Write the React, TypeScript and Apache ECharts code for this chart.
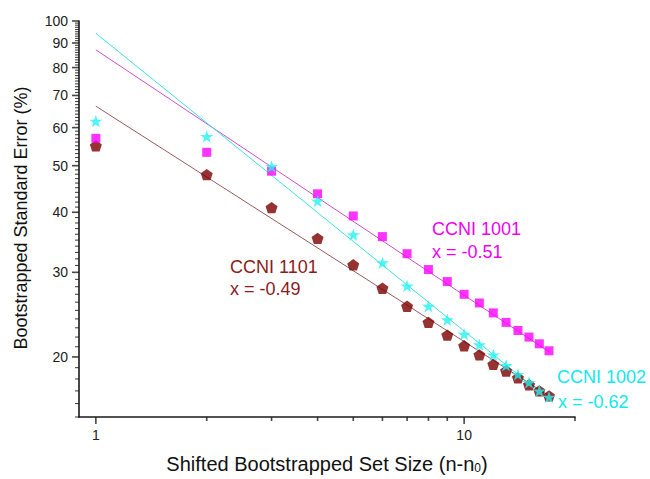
import React, { useEffect, useRef } from "react";
import * as echarts from "echarts";

// Shifted bootstrapped set size (n - n0)
const setSizes = [1, 2, 3, 4, 5, 6, 7, 8, 9, 10, 11, 12, 13, 14, 15, 16, 17];

// Bootstrapped standard error (%)
const ccni1001 = [57.0, 53.3, 48.7, 43.7, 39.3, 35.6, 32.8, 30.4, 28.7, 27.0, 25.9, 24.7, 23.6, 22.7, 22.0, 21.3, 20.6];
const ccni1002 = [61.9, 57.5, 49.8, 42.2, 35.9, 31.4, 28.1, 25.5, 23.9, 22.3, 21.2, 20.2, 19.2, 18.4, 17.7, 17.0, 16.5];
const ccni1101 = [55.0, 47.9, 40.9, 35.3, 31.1, 27.8, 25.5, 23.6, 22.2, 21.1, 20.2, 19.3, 18.7, 18.1, 17.5, 17.0, 16.6];

// Power-law fit lines: endpoints
const fitX = [1, 17];
const fit1001 = [87.1, 20.5];
const fit1002 = [94.3, 16.3];
const fit1101 = [66.5, 16.6];

// Axis ranges and tick values
const xRange = [0.9, 20];
const yRange = [15, 100];
const xMajor = [1, 10];
const xMinor = [2, 3, 4, 5, 6, 7, 8, 9, 20];
const yMajor = [20, 30, 40, 50, 60, 70, 80, 90, 100];
const yMinor = [
  15, 16, 17, 18, 19, 21, 22, 23, 24, 25, 26, 27, 28, 29,
  31, 32, 33, 34, 35, 36, 37, 38, 39, 41, 42, 43, 44, 45, 46, 47, 48, 49,
  51, 52, 53, 54, 55, 56, 57, 58, 59, 61, 62, 63, 64, 65, 66, 67, 68, 69,
  71, 72, 73, 74, 75, 76, 77, 78, 79, 81, 82, 83, 84, 85, 86, 87, 88, 89,
  91, 92, 93, 94, 95, 96, 97, 98, 99,
];

const FONT = '"Liberation Sans", Arial, sans-serif';
const AXIS = "#1a1a1a";

const STAR =
  "path://M50,0 L61.8,35.3 L99,35.3 L68.8,57.1 L80.3,92.7 L50,70.9 L19.7,92.7 L31.2,57.1 L1,35.3 L38.2,35.3 Z";
const PENTAGON = "path://M50,0 L97.6,34.5 L79.4,90.5 L20.6,90.5 L2.4,34.5 Z";

const pairs = (xv: number[], yv: number[]) => xv.map((x, i) => [x, yv[i]]);

function buildOption(): any {
  const fitLine = (data: number[], color: string) => ({
    type: "line",
    data: pairs(fitX, data),
    symbol: "none",
    lineStyle: { color, width: 1 },
    z: 2,
    silent: true,
  });
  const scatter = (data: number[], symbol: string, size: number, color: string) => ({
    type: "scatter",
    data: pairs(setSizes, data),
    symbol,
    symbolSize: size,
    symbolKeepAspect: true,
    itemStyle: { color },
    z: 3,
  });
  // tick marks: thin rect markers placed on the axes through the log scales
  const xTicks = (values: number[], len: number) => ({
    type: "scatter",
    silent: true,
    clip: false,
    z: 6,
    data: values.map((v) => [v, yRange[0]]),
    symbol: "rect",
    symbolSize: [1.6, len],
    symbolOffset: [0, len / 2],
    itemStyle: { color: AXIS },
  });
  const yTicks = (values: number[], len: number, w: number) => ({
    type: "scatter",
    silent: true,
    clip: false,
    z: 6,
    data: values.map((v) => [xRange[0], v]),
    symbol: "rect",
    symbolSize: [len, w],
    symbolOffset: [-len / 2, 0],
    itemStyle: { color: AXIS },
  });

  return {
    animation: false,
    backgroundColor: "#ffffff",
    grid: { left: 79, right: 75, top: 21, bottom: 59, containLabel: false },
    xAxis: {
      type: "log",
      logBase: 10,
      min: xRange[0],
      max: xRange[1],
      position: "bottom",
      name: "Shifted Bootstrapped Set Size (n-n{sub|0})",
      nameLocation: "middle",
      nameGap: 36,
      nameTextStyle: {
        fontFamily: FONT,
        fontSize: 20,
        color: "#111",
        rich: {
          sub: { fontFamily: FONT, fontSize: 12, color: "#111", verticalAlign: "bottom", padding: [9, 0, 0, 0] },
        },
      },
      axisLine: { show: true, onZero: false, lineStyle: { color: AXIS, width: 1.6 } },
      axisTick: { show: false },
      axisLabel: {
        customValues: xMajor,
        formatter: (v: number) => String(Math.round(v)),
        fontFamily: FONT,
        fontSize: 14,
        color: "#222",
        margin: 11,
      },
      splitLine: { show: false },
    },
    yAxis: {
      type: "log",
      logBase: 10,
      min: yRange[0],
      max: yRange[1],
      position: "left",
      axisLine: { show: true, onZero: false, lineStyle: { color: AXIS, width: 1.6 } },
      axisTick: { show: false },
      axisLabel: {
        customValues: yMajor,
        formatter: (v: number) => String(Math.round(v)),
        fontFamily: FONT,
        fontSize: 14,
        color: "#222",
        margin: 11,
      },
      splitLine: { show: false },
    },
    series: [
      xTicks(xMajor, 7),
      xTicks(xMinor, 4),
      yTicks(yMajor, 7, 1.6),
      yTicks(yMinor, 4, 1.1),
      fitLine(fit1101, "#9b5a5a"),
      fitLine(fit1001, "#d24fd2"),
      fitLine(fit1002, "#3fe0e0"),
      scatter(ccni1101, PENTAGON, 12, "#7a0000"),
      scatter(ccni1001, "rect", 9, "#ff00ff"),
      scatter(ccni1002, STAR, 13, "#22f2f2"),
    ],
  };
}

function buildGraphic(): any[] {
  const label = (x: number, y: number, text: string, color: string) => ({
    type: "text",
    x,
    y,
    silent: true,
    style: {
      text,
      fill: color,
      font: `18px ${FONT}`,
      textAlign: "left",
      textVerticalAlign: "middle",
      verticalAlign: "middle",
    },
  });
  return [
    {
      type: "text",
      x: 21,
      y: 218,
      rotation: Math.PI / 2,
      silent: true,
      style: {
        text: "Bootstrapped Standard Error (%)",
        fill: "#111",
        font: `18px ${FONT}`,
        textAlign: "center",
        textVerticalAlign: "middle",
        verticalAlign: "middle",
      },
    },
    label(432, 229, "CCNI 1001", "#f000f0"),
    label(432, 252, "x = -0.51", "#f000f0"),
    label(230, 267, "CCNI 1101", "#8b1c1c"),
    label(230, 289, "x = -0.49", "#8b1c1c"),
    label(557, 377, "CCNI 1002", "#10e8f0"),
    label(558, 402, "x = -0.62", "#10e8f0"),
  ];
}

export default function App() {
  const ref = useRef<HTMLDivElement>(null);
  useEffect(() => {
    if (!ref.current) return;
    const chart = echarts.init(ref.current, null, { renderer: "svg" });
    chart.setOption({ ...buildOption(), graphic: buildGraphic() });
    return () => chart.dispose();
  }, []);
  return (
    <div
      ref={ref}
      style={{ position: "fixed", left: 0, top: 0, width: 650, height: 479, background: "#fff" }}
    />
  );
}
